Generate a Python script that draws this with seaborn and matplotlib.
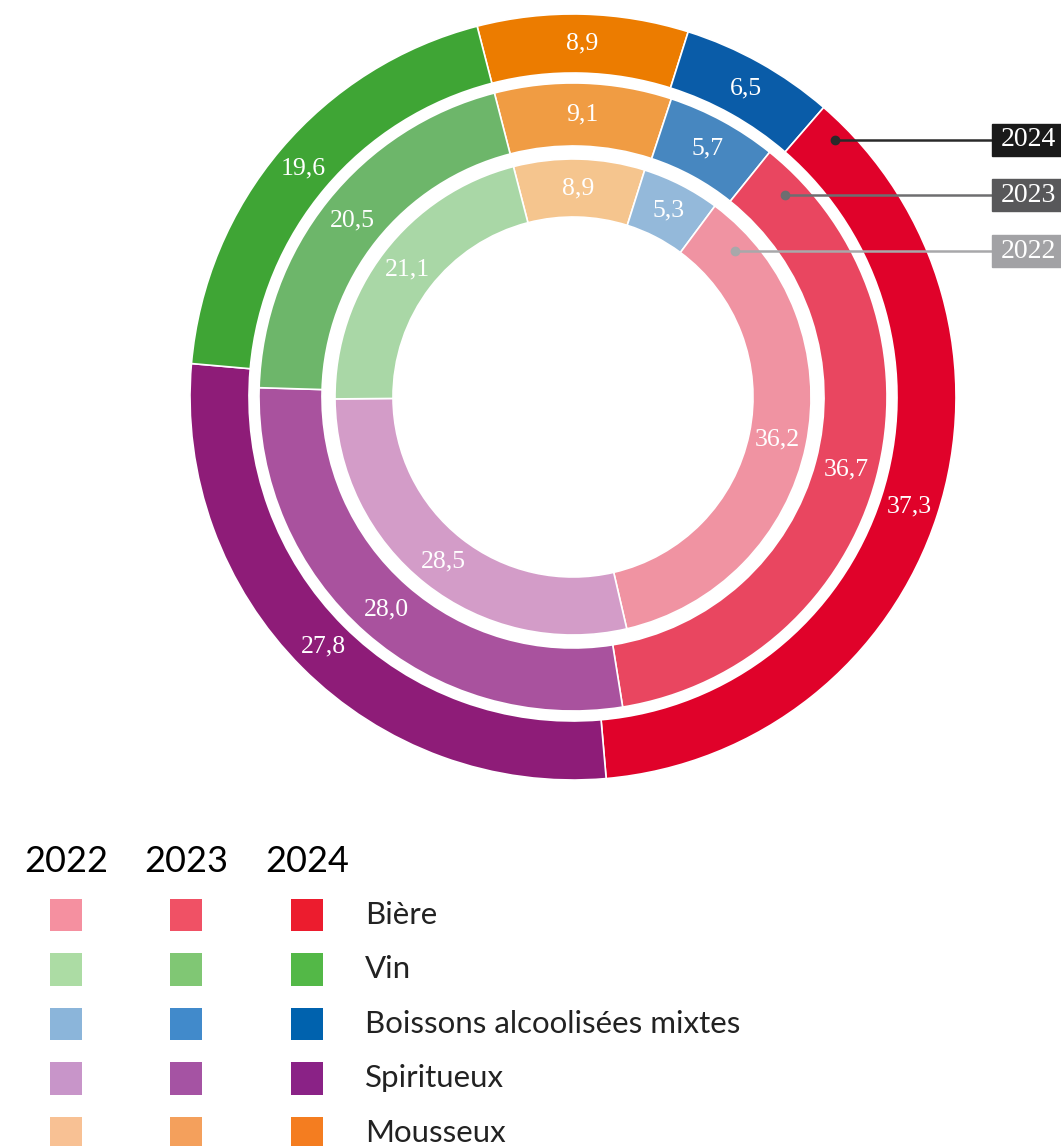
import numpy as np
import pandas as pd
import seaborn as sns
import matplotlib.pyplot as plt
from matplotlib.patches import Rectangle

# categories in legend order
categories = ["Bière", "Vin", "Boissons alcoolisées mixtes", "Spiritueux", "Mousseux"]
years = ["2022", "2023", "2024"]

share_2022 = [36.2, 21.1, 5.3, 28.5, 8.9]
share_2023 = [36.7, 20.5, 5.7, 28.0, 9.1]
share_2024 = [37.3, 19.6, 6.5, 27.8, 8.9]

colors_2022 = ["#f093a2", "#a9d7a6", "#94b9da", "#d39cc8", "#f5c58e"]
colors_2023 = ["#e94660", "#6db66a", "#4787c0", "#a9529e", "#f09c43"]
colors_2024 = ["#e0022a", "#3fa535", "#0a5ca8", "#8e1c78", "#ec7c00"]

legend_2022 = ["#f590a0", "#acdca4", "#8bb5da", "#c895c9", "#f8c194"]
legend_2023 = ["#f05165", "#80c774", "#418acb", "#a553a3", "#f4a05c"]
legend_2024 = ["#ec1c2e", "#53b847", "#0062ae", "#8a2286", "#f47d20"]

# order of the slices going clockwise from the Mousseux / Vin border
pie_order = [4, 2, 0, 3, 1]

sns.set_theme(style="white")
plt.rcParams["font.family"] = ["Lato", "DejaVu Sans"]

W, H = 1061, 1146
fig = plt.figure(figsize=(W / 100, H / 100), dpi=100)
ax = fig.add_axes([0, 0, 1, 1])


def Y(py):
    return H - py


def fmt(v):
    return f"{v:.1f}".replace(".", ",")


cx, cy = 573, Y(397)
rings = [
    (share_2022, colors_2022, 238, 58),
    (share_2023, colors_2023, 314, 63),
    (share_2024, colors_2024, 383, 59),
]

for shares, cols, r, w in rings:
    vals = [shares[i] for i in pie_order]
    cs = [cols[i] for i in pie_order]
    wedges, _ = ax.pie(vals, colors=cs, radius=r, center=(cx, cy),
                       startangle=104.5, counterclock=False,
                       wedgeprops=dict(width=w, edgecolor="white", linewidth=1.2))
    for wdg, v in zip(wedges, vals):
        a = np.deg2rad((wdg.theta1 + wdg.theta2) / 2)
        rm = r - w / 2
        ax.text(cx + rm * np.cos(a), cy + rm * np.sin(a), fmt(v),
                ha="center", va="center", color="white", fontsize=18.5,
                family="Liberation Serif", zorder=5)

# year call-outs on the right
callouts = [
    ("2024", 835, 140, "#2a2a2a", "#1a1a1a"),
    ("2023", 785, 195, "#6e6e70", "#58585a"),
    ("2022", 735, 251, "#a8a8aa", "#a2a2a5"),
]
for yr, dx, py, lc, bc in callouts:
    ax.plot([dx, 992], [Y(py), Y(py)], color=lc, lw=1.8, zorder=6)
    ax.plot(dx, Y(py), "o", color=lc, ms=6, zorder=7)
    ax.add_patch(Rectangle((992, Y(py) - 16), 90, 32, color=bc, zorder=6))
    ax.text(1001, Y(py), yr, color="white", ha="left", va="center",
            fontsize=20, family="Liberation Serif", zorder=8)

# legend grid
col_x = [66, 186, 307]
row_y = [915 + 54.5 * i for i in range(len(categories))]
legend_cols = [legend_2022, legend_2023, legend_2024]
for j, yr in enumerate(years):
    ax.text(col_x[j], Y(862), yr, ha="center", va="center", fontsize=26, color="black")
    df = pd.DataFrame({"x": [col_x[j]] * len(categories),
                       "y": [Y(v) for v in row_y],
                       "cat": categories})
    sns.scatterplot(data=df, x="x", y="y", hue="cat",
                    palette=dict(zip(categories, legend_cols[j])),
                    marker="s", s=560, linewidth=0, legend=False, ax=ax)

for cat, py in zip(categories, row_y):
    ax.text(365, Y(py), cat, ha="left", va="center", fontsize=22.5, color="#222222")

ax.set_xlim(0, W)
ax.set_ylim(0, H)
ax.set_aspect("auto")
ax.axis("off")

fig.savefig("out.png", dpi=100)
